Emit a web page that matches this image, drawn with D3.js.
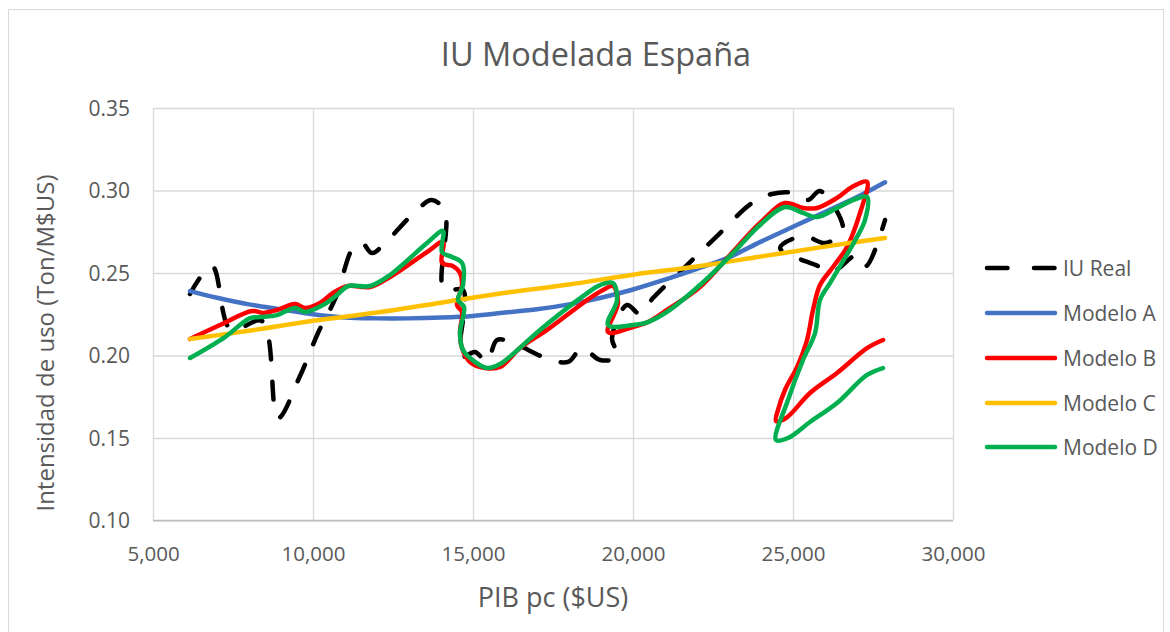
<!DOCTYPE html>
<html>
<head>
<meta charset="utf-8">
<script src="https://cdn.jsdelivr.net/npm/d3@7"></script>
<style>
  html, body { margin: 0; padding: 0; background: #fff; }
  svg { display: block; font-family: "Open Sans", "Noto Sans", sans-serif; }
</style>
</head>
<body>
<svg id="chart" width="1170" height="632"></svg>
<script>
// ---- Data ----
const chartTitle = "IU Modelada España";
const xAxisTitle = "PIB pc ($US)";
const yAxisTitle = "Intensidad de uso (Ton/M$US)";
const xTicks = [5000, 10000, 15000, 20000, 25000, 30000];
const yTicks = [0.10, 0.15, 0.20, 0.25, 0.30, 0.35];
const seriesNames = ["IU Real", "Modelo A", "Modelo B", "Modelo C", "Modelo D"];

const iuReal = [
  [6156,0.2373],[6844,0.2542],[7438,0.2155],[8406,0.2209],[8906,0.1621],[9594,0.1876],
  [10156,0.2136],[10719,0.2355],[11250,0.2652],[11531,0.2682],[11844,0.2621],[12250,0.2682],
  [13188,0.2870],[13719,0.2942],[14125,0.2870],[14094,0.2397],[14688,0.2397],[14625,0.1991],
  [15063,0.2021],[15438,0.1961],[15750,0.2094],[16250,0.2076],[17281,0.1985],[17969,0.1961],
  [18406,0.2045],[18969,0.1973],[19531,0.1991],[19344,0.2106],[19813,0.2306],[20219,0.2252],
  [20625,0.2348],[21625,0.2536],[22656,0.2730],[23719,0.2924],[24344,0.2979],[25000,0.2985],
  [25469,0.2942],[25844,0.2997],[26563,0.2761],[26031,0.2682],[25313,0.2724],[24594,0.2652],
  [25781,0.2542],[26219,0.2506],[27000,0.2609],[27281,0.2542],[27875,0.2821]
];

const modeloA = [
  [6156,0.2390],[7000,0.2350],[8000,0.2310],[9000,0.2280],[10000,0.2250],[11000,0.2230],
  [12000,0.2225],[13000,0.2225],[14000,0.2230],[15000,0.2240],[16000,0.2260],[17000,0.2280],
  [18000,0.2310],[19000,0.2350],[20000,0.2400],[21000,0.2460],[22000,0.2525],[23000,0.2595],
  [24000,0.2690],[25000,0.2780],[26000,0.2870],[27000,0.2960],[27875,0.3050]
];

const modeloB = [
  [6156,0.2100],[7094,0.2185],[8094,0.2270],[8438,0.2258],[8875,0.2276],[9438,0.2312],
  [9750,0.2288],[10219,0.2318],[10625,0.2379],[11094,0.2421],[11781,0.2415],[12406,0.2476],
  [13563,0.2627],[14063,0.2688],[14031,0.2561],[14375,0.2542],[14594,0.2500],[14656,0.2427],
  [14500,0.2306],[14656,0.2264],[14594,0.2142],[14656,0.2045],[14906,0.1961],[15375,0.1924],
  [15844,0.1930],[16469,0.2045],[17313,0.2155],[18563,0.2336],[19063,0.2397],[19375,0.2421],
  [19531,0.2318],[19219,0.2142],[20000,0.2173],[20469,0.2203],[21063,0.2276],[22094,0.2415],
  [23031,0.2609],[23969,0.2803],[24750,0.2924],[25313,0.2894],[25750,0.2894],[26375,0.2955],
  [26844,0.3021],[27313,0.3052],[27094,0.2864],[26688,0.2658],[26250,0.2536],[25844,0.2427],
  [25625,0.2276],[25438,0.2094],[25125,0.1930],[24750,0.1791],[24531,0.1670],[24469,0.1603],
  [24781,0.1621],[25531,0.1773],[26375,0.1894],[27313,0.2045],[27813,0.2094]
];

const modeloC = [
  [6156,0.2100],[8000,0.2150],[10000,0.2210],[12000,0.2260],[14000,0.2320],[16000,0.2380],
  [18000,0.2430],[20000,0.2490],[22000,0.2540],[24000,0.2600],[26000,0.2660],[27875,0.2712]
];

const modeloD = [
  [6156,0.1985],[7250,0.2112],[8031,0.2227],[8344,0.2233],[8875,0.2245],[9438,0.2288],
  [9750,0.2264],[10313,0.2306],[10750,0.2367],[11094,0.2421],[11781,0.2421],[12406,0.2488],
  [13563,0.2682],[14063,0.2755],[14031,0.2627],[14344,0.2597],[14656,0.2561],[14688,0.2427],
  [14531,0.2336],[14719,0.2294],[14594,0.2136],[14688,0.2033],[15063,0.1961],[15438,0.1924],
  [15844,0.1948],[17094,0.2155],[18406,0.2355],[18969,0.2427],[19375,0.2439],[19500,0.2336],
  [19219,0.2185],[20000,0.2185],[20469,0.2203],[21063,0.2264],[22094,0.2427],[23125,0.2621],
  [23969,0.2791],[24750,0.2900],[25313,0.2864],[25750,0.2839],[26375,0.2894],[26875,0.2942],
  [27313,0.2961],[27250,0.2821],[27000,0.2718],[26531,0.2561],[26156,0.2439],[25844,0.2336],
  [25688,0.2136],[25313,0.1973],[24844,0.1730],[24469,0.1488],[24844,0.1500],[25531,0.1597],
  [26375,0.1712],[27313,0.1882],[27813,0.1924]
];

// ---- Layout ----
const plot = { left: 153, right: 953, top: 108, bottom: 520.5 };
const svg = d3.select("#chart");

svg.append("rect").attr("x", 8.5).attr("y", 9.5).attr("width", 1155).attr("height", 650)
  .attr("fill", "#fff").attr("stroke", "#D9D9D9").attr("stroke-width", 1);

const x = d3.scaleLinear().domain([5000, 30000]).range([plot.left, plot.right]);
const y = d3.scaleLinear().domain([0.10, 0.35]).range([plot.bottom, plot.top]);

// gridlines
const gx = svg.append("g").attr("transform", `translate(0,${plot.bottom})`)
  .call(d3.axisBottom(x).tickValues(xTicks).tickSize(-(plot.bottom - plot.top)).tickFormat(""));
gx.selectAll(".tick line").attr("stroke", "#D9D9D9").attr("stroke-width", 1.3);
gx.select(".domain").remove();

const gy = svg.append("g").attr("transform", `translate(${plot.left},0)`)
  .call(d3.axisLeft(y).tickValues(yTicks).tickSize(-(plot.right - plot.left)).tickFormat(""));
gy.selectAll(".tick line").attr("stroke", "#D9D9D9").attr("stroke-width", 1.3);
gy.select(".domain").remove();

// bottom axis line
svg.append("line").attr("x1", plot.left).attr("x2", plot.right)
  .attr("y1", plot.bottom).attr("y2", plot.bottom)
  .attr("stroke", "#BFBFBF").attr("stroke-width", 1.5);

// tick labels
const xl = svg.append("g").attr("transform", `translate(0,${plot.bottom})`)
  .call(d3.axisBottom(x).tickValues(xTicks).tickSize(0).tickPadding(0).tickFormat(d3.format(",")));
xl.select(".domain").remove();
xl.selectAll("text").attr("dy", null).attr("y", 40).attr("fill", "#595959")
  .style("font-size", "20.5px").style("font-family", "'Open Sans', sans-serif");

const yl = svg.append("g").attr("transform", `translate(${plot.left},0)`)
  .call(d3.axisLeft(y).tickValues(yTicks).tickSize(0).tickPadding(0).tickFormat(d3.format(".2f")));
yl.select(".domain").remove();
yl.selectAll("text").attr("x", -23).attr("dy", "0.35em").attr("fill", "#595959")
  .style("font-size", "21px").style("font-family", "'Open Sans', sans-serif");

// titles
svg.append("text").attr("x", 596).attr("y", 66).attr("text-anchor", "middle")
  .attr("fill", "#595959").style("font-size", "32.5px").text(chartTitle);
svg.append("text").attr("x", 553).attr("y", 607).attr("text-anchor", "middle")
  .attr("fill", "#595959").style("font-size", "27px").text(xAxisTitle);
svg.append("text").attr("transform", "translate(54,343) rotate(-90)").attr("text-anchor", "middle")
  .attr("fill", "#595959").style("font-size", "24px").text(yAxisTitle);

// series
const series = [
  { name: seriesNames[0], data: iuReal, color: "#000000", dash: "18,22" },
  { name: seriesNames[1], data: modeloA, color: "#4472C4", dash: null },
  { name: seriesNames[2], data: modeloB, color: "#FF0000", dash: null },
  { name: seriesNames[3], data: modeloC, color: "#FFC000", dash: null },
  { name: seriesNames[4], data: modeloD, color: "#00B050", dash: null }
];

const line = d3.line().x(d => x(d[0])).y(d => y(d[1])).curve(d3.curveCatmullRom.alpha(0.5));

const gLines = svg.append("g");
series.forEach(s => {
  gLines.append("path").datum(s.data).attr("d", line)
    .attr("fill", "none").attr("stroke", s.color).attr("stroke-width", 4.5)
    .attr("stroke-linecap", "round").attr("stroke-linejoin", "round")
    .attr("stroke-dasharray", s.dash);
});

// legend
const legRows = [268, 313, 358, 403, 447];
const leg = svg.append("g");
series.forEach((s, i) => {
  const ly = legRows[i];
  leg.append("line").attr("x1", 987).attr("x2", 1055).attr("y1", ly).attr("y2", ly)
    .attr("stroke", s.color).attr("stroke-width", 4.5).attr("stroke-linecap", "round")
    .attr("stroke-dasharray", s.dash ? "20.5,26.5" : null);
  leg.append("text").attr("x", 1063).attr("y", ly + 7.5).attr("fill", "#595959")
    .style("font-size", "21px").text(s.name);
});
</script>
</body>
</html>
